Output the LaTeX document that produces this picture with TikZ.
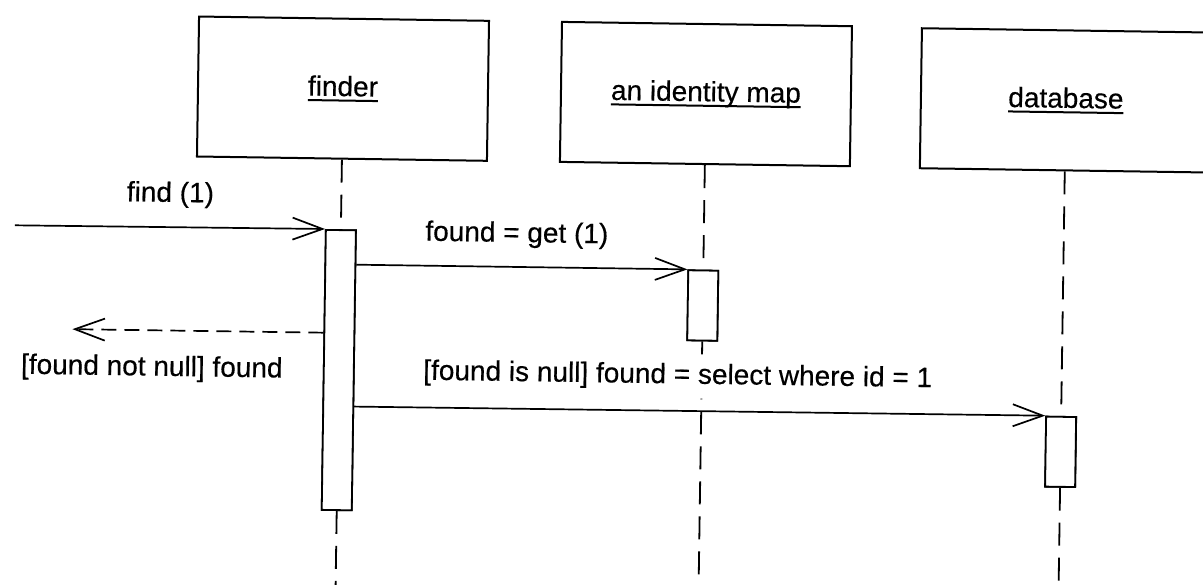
\documentclass[tikz,border=0pt]{standalone}
\usepackage{fontspec}
\setmainfont[FakeBold=0.4]{Liberation Sans}
\usetikzlibrary{arrows.meta,calc}
\newcommand\ulword[1]{\setbox0=\hbox{#1}\rlap{\rule[-5.5pt]{\wd0}{2pt}}\box0}
\begin{document}
\begin{tikzpicture}[x=1pt,y=1pt,
  objbox/.style={draw, line width=2pt, minimum width=290pt, minimum height=140pt, inner sep=0pt, font=\fontsize{28}{34}\selectfont},
  actbar/.style={draw, fill=white, line width=1.8pt, minimum width=30pt, inner sep=0pt},
  lifeline/.style={line width=1.8pt, dash pattern=on 23pt off 12pt},
  msg/.style={line width=1.7pt, -{Straight Barb[length=30pt,width=22pt]}},
  retmsg/.style={msg, dash pattern=on 15pt off 8pt},
  lbl/.style={inner sep=0pt, font=\fontsize{28}{34}\selectfont}]
\useasboundingbox (0,0) rectangle (1203,-585);
\clip (0,0) rectangle (1203,-585);
\begin{scope}[rotate around={-0.85:(600,-292)}, transform shape]
  % objects
  \node[objbox] (finder) at (340,-92.5) {\ulword{finder}};
  \node[objbox] (idmap) at (703,-92.5) {\ulword{an identity map}};
  \node[objbox] (db) at (1063,-93.5) {\ulword{database}};
  % activation bars (positions)
  \node[actbar, minimum height=280pt] (fbar) at (340,-374) {};
  \node[actbar, minimum height=70pt] (ibar) at (703,-304) {};
  \node[actbar, minimum height=70pt] (dbar) at (1063,-445) {};
  % lifelines
  \draw[lifeline] (finder.south) -- (fbar.north);
  \draw[lifeline] (fbar.south) -- ($(fbar.north)!1.4!(fbar.south)$);
  \draw[lifeline] (idmap.south) -- (ibar.north);
  \draw[lifeline] (ibar.south) -- ($(ibar.north)!5!(ibar.south)$);
  \draw[lifeline] (db.south) -- (dbar.north);
  \draw[lifeline] (dbar.south) -- ($(dbar.north)!3!(dbar.south)$);
  % redraw bars on top
  \node[actbar, minimum height=280pt] at (fbar) {};
  \node[actbar, minimum height=70pt] at (ibar) {};
  \node[actbar, minimum height=70pt] at (dbar) {};
  % free ends
  \coordinate (caller) at (14,-234);
  \coordinate (retend) at (73,-337);
  % labels
  \node[lbl] (l1) at (169,-201) {find (1)};
  \node[lbl] (l2) at (516,-236) {found = get (1)};
  \node[lbl, fill=white, inner xsep=3pt, inner ysep=9pt] (l3) at (679,-375) {[found is null] found = select where id = 1};
  \node[lbl] (l4) at (153,-375) {[found not null] found};
  % messages
  \draw[msg] (caller) -- (fbar.north west);
  \draw[msg] ($(fbar.north east)!0.125!(fbar.south east)$) -- (ibar.north west);
  \draw[msg] ($(fbar.north east)!0.6286!(fbar.south east)$) -- (dbar.north west);
  \draw[retmsg] ($(fbar.north west)!0.368!(fbar.south west)$) -- (retend);
\end{scope}
\end{tikzpicture}
\end{document}
